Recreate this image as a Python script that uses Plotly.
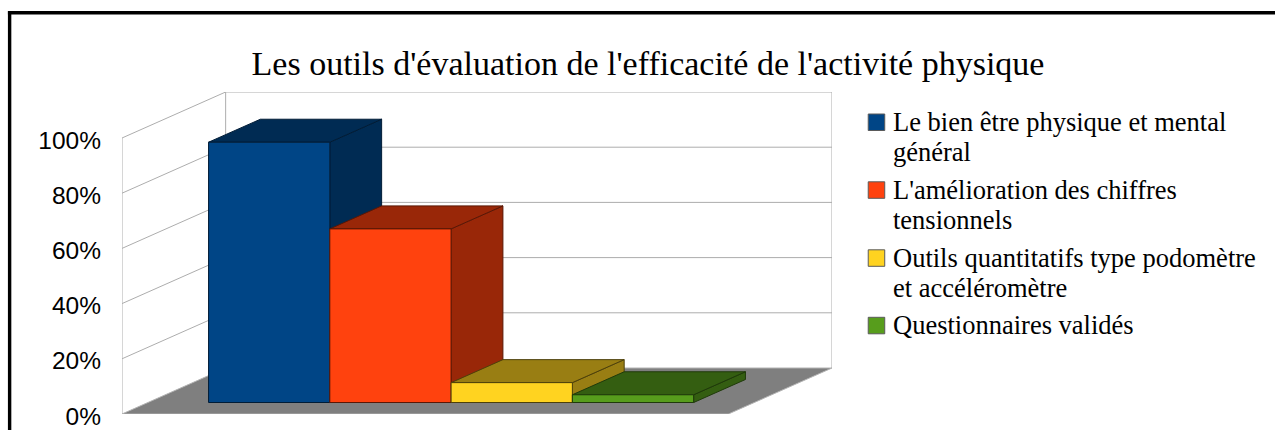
import plotly.graph_objects as go

TITLE = "Les outils d'évaluation de l'efficacité de l'activité physique"
series_names = [
    ["Le bien être physique et mental", "général"],
    ["L'amélioration des chiffres", "tensionnels"],
    ["Outils quantitatifs type podomètre", "et accéléromètre"],
    ["Questionnaires validés"],
]
series_values = [94.3, 62.9, 7.2, 2.8]
front_colors = ["#004586", "#ff420e", "#ffd320", "#579d1c"]
shade_colors = ["#002b53", "#992708", "#997e13", "#345e11"]
edge_colors = ["#001c36", "#5a1705", "#4d400a", "#1f3a0a"]
y_ticks = [0, 20, 40, 60, 80, 100]
y_tick_labels = ["0%", "20%", "40%", "60%", "80%", "100%"]

# Oblique projection of the floor depth onto the axes (depth 0 = front, 1 = back)
DX = 103.5 / 605.5
DY = 46 / 2.76
BAR_W, BAR_GAP = 0.2, 0.1
D_FRONT, D_BACK = 0.25, 0.75

# plot-area pixels
L, R, T, B = 122.3, 831.8, 91.7, 413.7
W, H = 1275, 430

# legend layout (pixels)
LEG_BOX_X0, LEG_BOX_SIZE = 868.0, 16.5
LEG_TEXT_X = 891.0
LEG_BOX_TOP = [113.7, 181.5, 249.5, 317.0]
LEG_LINE_PITCH = 29.3
LEG_FIRST_LINE_MID = [122.0, 190.0, 258.0, 325.0]


def proj(x, y, d):
    return x + d * DX, y + d * DY


def poly(points, **kw):
    pts = [proj(*p) for p in points]
    pts.append(pts[0])
    return go.Scatter(
        x=[p[0] for p in pts], y=[p[1] for p in pts], mode="lines", fill="toself",
        cliponaxis=False, hoverinfo="skip", showlegend=False, **kw)


def path(points):
    xs, ys = [], []
    for seg in points:
        for p in seg:
            a, b = proj(*p)
            xs.append(a)
            ys.append(b)
        xs.append(None)
        ys.append(None)
    return xs, ys


def paper_x(px):
    return (px - L) / (R - L)


def paper_y(px):
    return (B - px) / (B - T)


fig = go.Figure()

# floor
fig.add_trace(poly([(0, 0, 0), (1, 0, 0), (1, 0, 1), (0, 0, 1)],
                   fillcolor="#7f7f7f", line=dict(color="#b3b3b3", width=1)))

# walls and grid
segs = [[(0, 0, 0), (0, 100, 0)], [(0, 0, 1), (0, 100, 1)], [(1, 0, 1), (1, 100, 1)]]
for t in y_ticks[1:]:
    segs.append([(0, t, 0), (0, t, 1), (1, t, 1)])
gx, gy = path(segs)
fig.add_trace(go.Scatter(x=gx, y=gy, mode="lines", line=dict(color="#adadad", width=1),
                         cliponaxis=False, hoverinfo="skip", showlegend=False))

# bars
for i, v in enumerate(series_values):
    x0 = BAR_GAP + i * BAR_W
    x1 = x0 + BAR_W
    line = dict(color=edge_colors[i], width=1)
    fig.add_trace(poly([(x1, 0, D_FRONT), (x1, 0, D_BACK), (x1, v, D_BACK), (x1, v, D_FRONT)],
                       fillcolor=shade_colors[i], line=line))
    fig.add_trace(poly([(x0, v, D_FRONT), (x1, v, D_FRONT), (x1, v, D_BACK), (x0, v, D_BACK)],
                       fillcolor=shade_colors[i], line=line))
    front = poly([(x0, 0, D_FRONT), (x1, 0, D_FRONT), (x1, v, D_FRONT), (x0, v, D_FRONT)],
                 fillcolor=front_colors[i], line=line)
    front.name = " ".join(series_names[i])
    fig.add_trace(front)

border = dict(color="#000000", width=3.4)
shapes = [
    dict(type="line", xref="paper", yref="paper", x0=paper_x(8.3), x1=paper_x(W),
         y0=paper_y(12.5), y1=paper_y(12.5), line=border),
    dict(type="line", xref="paper", yref="paper", x0=paper_x(10), x1=paper_x(10),
         y0=paper_y(11), y1=paper_y(H), line=border),
]
annotations = []
for i, lines in enumerate(series_names):
    top = LEG_BOX_TOP[i]
    shapes.append(dict(type="rect", xref="paper", yref="paper",
                       x0=paper_x(LEG_BOX_X0), x1=paper_x(LEG_BOX_X0 + LEG_BOX_SIZE),
                       y0=paper_y(top), y1=paper_y(top + LEG_BOX_SIZE),
                       fillcolor=front_colors[i], line=dict(color="#5a5a5a", width=1)))
    for j, text in enumerate(lines):
        annotations.append(dict(
            text=text, xref="paper", yref="paper", showarrow=False,
            x=paper_x(LEG_TEXT_X), xanchor="left",
            y=paper_y(LEG_FIRST_LINE_MID[i] + j * LEG_LINE_PITCH), yanchor="middle",
            font=dict(family="Liberation Serif", size=26.5, color="#000000")))

fig.update_layout(
    width=W, height=H, showlegend=False,
    margin=dict(l=L, r=W - R, t=T, b=H - B, pad=0, autoexpand=False),
    paper_bgcolor="#ffffff", plot_bgcolor="#ffffff",
    title=dict(text=TITLE, x=648 / W, xref="container", xanchor="center",
               y=1 - 63.5 / H, yref="container", yanchor="middle",
               font=dict(family="Liberation Serif", size=34, color="#000000")),
    xaxis=dict(range=[0, 1 + DX], visible=False, fixedrange=True),
    yaxis=dict(range=[0, 100 + DY], showgrid=False, zeroline=False, showline=False,
               tickmode="array", tickvals=y_ticks, ticktext=y_tick_labels,
               ticks="", ticklabelstandoff=20, ticklabelshift=2, fixedrange=True,
               tickfont=dict(family="Liberation Sans", size=24.5, color="#000000")),
    shapes=shapes,
    annotations=annotations,
)

fig.write_html("out.html", config={"displayModeBar": False},
               post_script="document.body.style.margin='0';document.documentElement.style.overflow='hidden';")
